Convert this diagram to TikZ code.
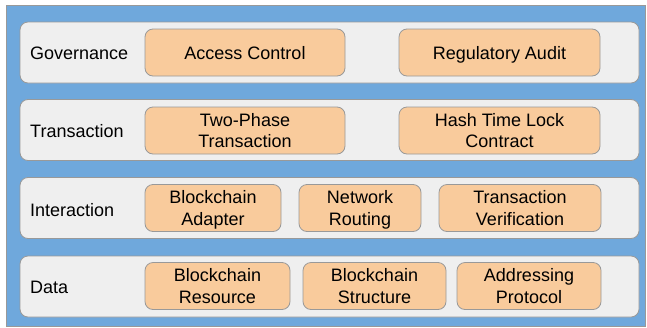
\documentclass[tikz,border=0pt]{standalone}
\usepackage{fontspec}
\setmainfont{Liberation Sans}
\usetikzlibrary{positioning}
\definecolor{stackblue}{HTML}{6FA8DC}
\definecolor{layergray}{HTML}{EFEFEF}
\definecolor{modorange}{HTML}{F9CB9C}
\definecolor{edgegray}{HTML}{999999}
\tikzset{
  stackbg/.style={draw=edgegray, fill=stackblue, line width=0.8pt},
  layerbox/.style={draw=edgegray, fill=layergray, rounded corners=8pt, line width=0.8pt, minimum width=619pt, minimum height=61pt, inner sep=0pt},
  layername/.style={anchor=west, inner sep=0pt, text height=13pt, text depth=0pt, font=\fontsize{18}{21.3}\selectfont},
  modbox/.style={draw=edgegray, fill=modorange, rounded corners=8pt, line width=0.8pt, align=center, inner sep=0pt, minimum height=47pt, text depth=0pt, font=\fontsize{18}{21.3}\selectfont}
}
\begin{document}
\begin{tikzpicture}[x=1pt, y=-1pt]
  \useasboundingbox (0,0) rectangle (647,327);
  \draw[stackbg] (6,5) rectangle (645,326);

  % layers
  \node[layerbox] (gov) at (329.5,52.5) {};
  \node[layerbox] (trans) at (329.5,130) {};
  \node[layerbox] (inter) at (329.5,208) {};
  \node[layerbox] (data) at (329.5,286.5) {};

  \node[layername] (govname) at (30,52.5) {Governance};
  \node[layername] (transname) at (30,130.5) {Transaction};
  \node[layername] (intername) at (30,209.5) {Interaction};
  \node[layername] (dataname) at (30,287) {Data};

  % governance
  \node[modbox, minimum width=200pt, text height=13pt] (access) at (245,52.5) {Access Control};
  \node[modbox, minimum width=201pt, text height=13pt] (audit) at (499.5,52.5) {Regulatory Audit};

  % transaction
  \node[modbox, minimum width=200pt] (twophase) at (245,130.5) {Two-Phase\\Transaction};
  \node[modbox, minimum width=201pt] (htlc) at (499.5,130.5) {Hash Time Lock\\Contract};

  % interaction
  \node[modbox, minimum width=136pt] (adapter) at (213,208) {Blockchain\\Adapter};
  \node[modbox, minimum width=122pt] (routing) at (360,208) {Network\\Routing};
  \node[modbox, minimum width=162pt] (verify) at (520,208) {Transaction\\Verification};

  % data
  \node[modbox, minimum width=145pt] (resource) at (217.5,286) {Blockchain\\Resource};
  \node[modbox, minimum width=143pt] (structure) at (374.5,286) {Blockchain\\Structure};
  \node[modbox, minimum width=144pt] (addressing) at (529,286) {Addressing\\Protocol};
\end{tikzpicture}
\end{document}
